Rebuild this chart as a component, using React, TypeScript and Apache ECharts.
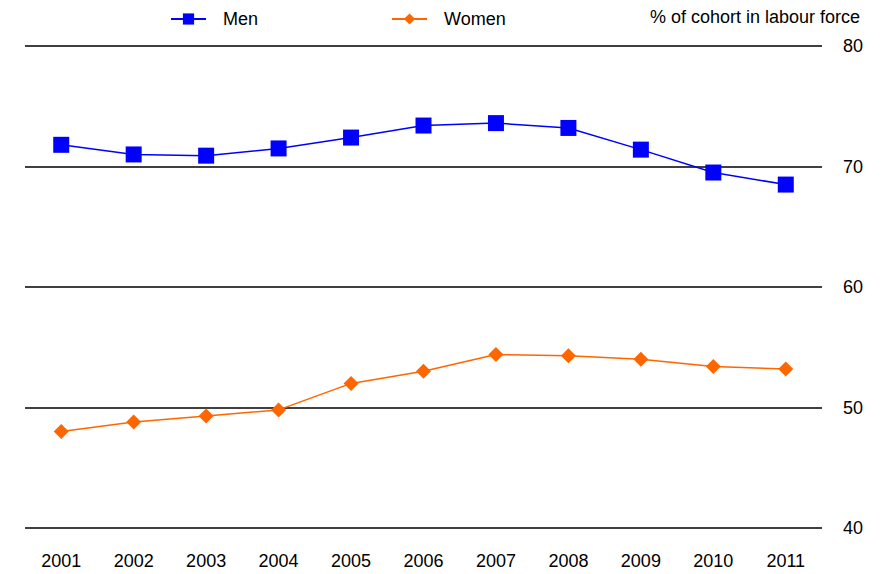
import React, { useEffect, useRef } from "react";
import * as echarts from "echarts";

const years = ["2001", "2002", "2003", "2004", "2005", "2006", "2007", "2008", "2009", "2010", "2011"];
const men = [71.8, 71.0, 70.9, 71.5, 72.4, 73.4, 73.6, 73.2, 71.4, 69.5, 68.5];
const women = [48.0, 48.8, 49.3, 49.8, 52.0, 53.0, 54.4, 54.3, 54.0, 53.4, 53.2];
const unitLabel = "% of cohort in labour force";

const FONT = "'Liberation Sans', Arial, sans-serif";

export default function App() {
  const ref = useRef<HTMLDivElement>(null);

  useEffect(() => {
    document.body.style.margin = "0";
    if (!ref.current) return;
    const chart = echarts.init(ref.current, null, { renderer: "svg" });
    chart.setOption({
      animation: false,
      backgroundColor: "#ffffff",
      textStyle: { fontFamily: FONT },
      title: {
        text: unitLabel,
        right: 21,
        top: 8,
        padding: 0,
        textStyle: { fontFamily: FONT, fontSize: 18, fontWeight: "normal", color: "#000" },
      },
      legend: {
        left: 170,
        top: 10,
        padding: 0,
        itemWidth: 35,
        itemHeight: 14,
        itemGap: 133,
        textStyle: { fontFamily: FONT, fontSize: 18, color: "#000", padding: [0, 0, 0, 12] },
        data: ["Men", "Women"],
      },
      grid: { left: 25, right: 59, top: 46, bottom: 46 },
      xAxis: {
        type: "category",
        data: years,
        boundaryGap: true,
        axisLine: { show: false },
        axisTick: { show: false },
        axisLabel: { fontFamily: FONT, fontSize: 18, color: "#000", margin: 24 },
      },
      yAxis: {
        type: "value",
        position: "right",
        min: 40,
        max: 80,
        interval: 10,
        axisLine: { show: false },
        axisTick: { show: false },
        splitLine: { lineStyle: { color: "#000", width: 1.5 } },
        axisLabel: { fontFamily: FONT, fontSize: 18, color: "#000", margin: 21 },
      },
      series: [
        {
          name: "Men",
          type: "line",
          data: men,
          symbol: "rect",
          symbolSize: 16,
          color: "#0000ff",
          lineStyle: { color: "#0000ff", width: 1.5 },
          itemStyle: { color: "#0000ff" },
        },
        {
          name: "Women",
          type: "line",
          data: women,
          symbol: "diamond",
          symbolSize: 15,
          color: "#ff6600",
          lineStyle: { color: "#ff6600", width: 1.5 },
          itemStyle: { color: "#ff6600" },
        },
      ],
    });
    return () => chart.dispose();
  }, []);

  return <div ref={ref} style={{ width: 881, height: 574 }} />;
}
